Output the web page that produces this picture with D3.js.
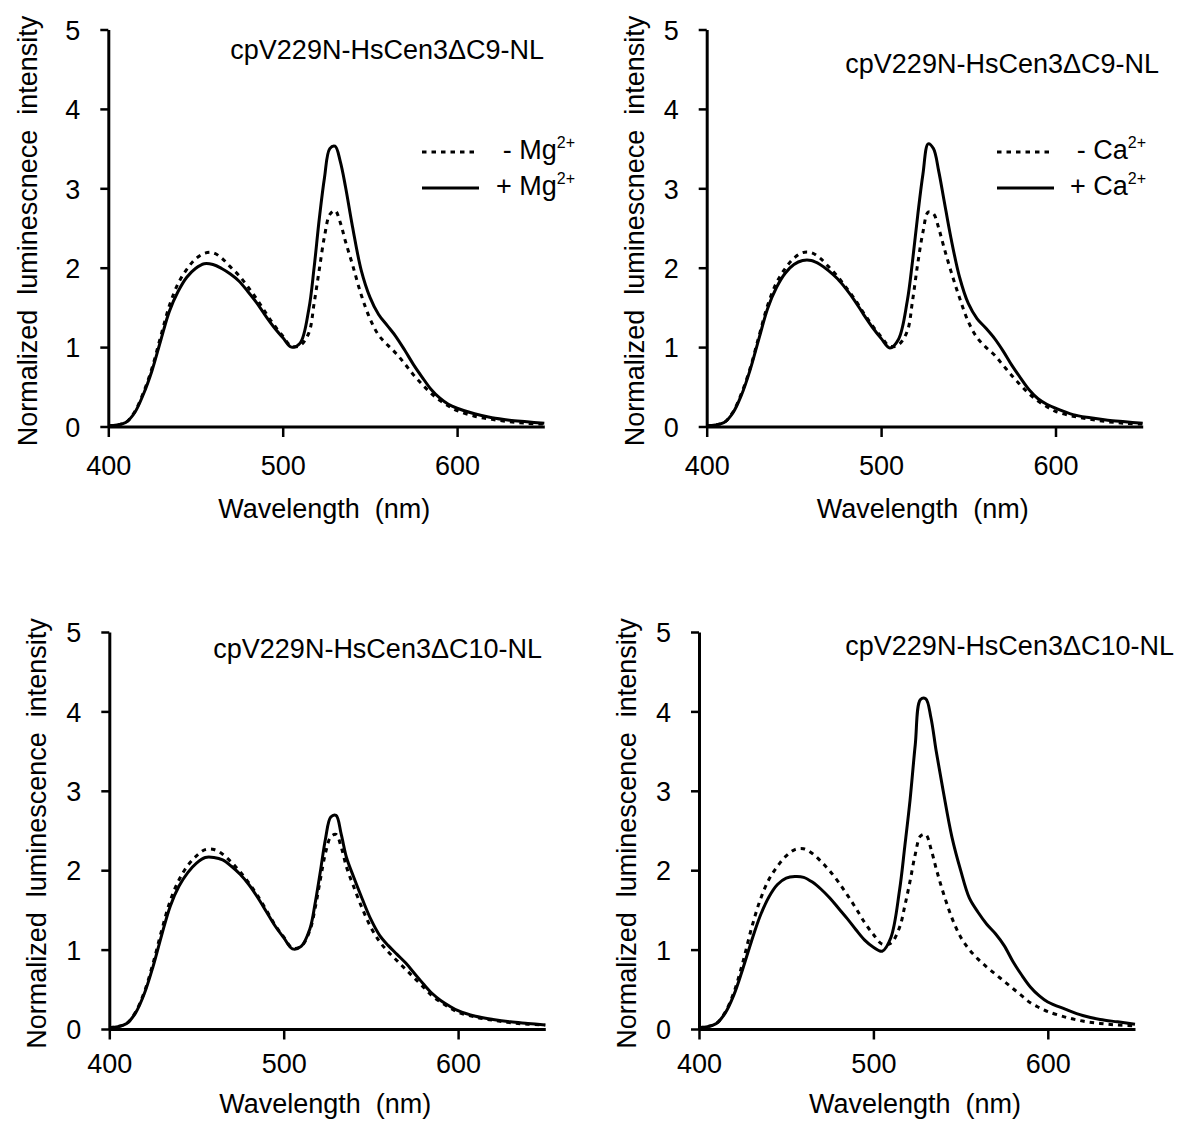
<!DOCTYPE html>
<html>
<head>
<meta charset="utf-8">
<script src="https://cdn.jsdelivr.net/npm/d3@7"></script>
<style>
  html, body { margin: 0; padding: 0; background: #fff; }
  svg text { font-family: "Liberation Sans", Arial, Helvetica, sans-serif; fill: #000; }
</style>
</head>
<body>
<svg id="chart" width="1181" height="1124"></svg>
<script>
// ---------------- DATA ----------------
const wavelengths = [400,405,410,415,420,425,430,435,440,445,450,455,460,465,470,475,480,485,490,495,500,505,510,515,518,521,524,527,530,533,536,540,545,550,555,560,565,570,575,580,585,590,595,600,610,620,630,640,650];

// Panel A: cpV229N-HsCen3dC9-NL, Mg2+
const aMinus = [0.01,0.02,0.05,0.18,0.42,0.73,1.13,1.52,1.80,1.98,2.11,2.18,2.19,2.12,2.01,1.90,1.76,1.61,1.44,1.28,1.14,1.01,1.02,
                1.18,1.55,1.98,2.40,2.67,2.72,2.57,2.33,2.04,1.66,
                1.36,1.15,1.03,0.92,0.79,0.65,0.53,0.42,0.33,0.26,0.20,0.13,0.09,0.06,0.04,0.03];
const aPlus  = [0.01,0.02,0.05,0.17,0.40,0.70,1.08,1.45,1.70,1.88,1.99,2.05,2.04,1.99,1.92,1.83,1.70,1.56,1.40,1.25,1.12,1.00,1.05,
                1.48,2.00,2.62,3.14,3.50,3.53,3.34,3.02,2.52,1.97,
                1.63,1.41,1.27,1.13,0.96,0.78,0.62,0.47,0.36,0.28,0.23,0.16,0.11,0.08,0.06,0.04];

// Panel B: cpV229N-HsCen3dC9-NL, Ca2+
const bMinus = [0.01,0.02,0.05,0.18,0.42,0.74,1.14,1.53,1.81,1.99,2.12,2.19,2.19,2.12,2.01,1.89,1.75,1.60,1.43,1.27,1.13,1.01,1.03,
                1.20,1.58,2.05,2.45,2.70,2.68,2.50,2.26,1.96,1.62,
                1.32,1.12,1.00,0.90,0.77,0.64,0.52,0.41,0.32,0.25,0.19,0.13,0.09,0.06,0.04,0.03];
const bPlus  = [0.01,0.02,0.05,0.17,0.40,0.72,1.11,1.49,1.75,1.93,2.04,2.09,2.09,2.04,1.96,1.86,1.73,1.58,1.41,1.25,1.11,0.99,1.10,
                1.58,2.08,2.66,3.18,3.56,3.50,3.22,2.86,2.38,1.88,
                1.55,1.36,1.24,1.11,0.95,0.77,0.61,0.46,0.35,0.28,0.23,0.15,0.11,0.08,0.06,0.04];

// Panel C: cpV229N-HsCen3dC10-NL, Mg2+
const cMinus = [0.02,0.03,0.07,0.21,0.46,0.82,1.24,1.62,1.88,2.06,2.18,2.26,2.26,2.20,2.10,1.98,1.84,1.68,1.50,1.31,1.16,1.02,1.04,
                1.24,1.52,1.88,2.22,2.42,2.45,2.29,2.04,1.80,1.52,
                1.28,1.10,0.97,0.86,0.75,0.64,0.53,0.42,0.34,0.27,0.21,0.15,0.11,0.08,0.06,0.05];
const cPlus  = [0.02,0.03,0.07,0.20,0.44,0.78,1.18,1.55,1.80,1.97,2.09,2.16,2.16,2.13,2.05,1.95,1.82,1.66,1.48,1.30,1.15,1.01,1.04,
                1.26,1.58,1.98,2.40,2.67,2.69,2.45,2.16,1.92,1.64,
                1.38,1.18,1.05,0.94,0.83,0.70,0.57,0.45,0.36,0.29,0.23,0.16,0.12,0.09,0.07,0.05];

// Panel D: cpV229N-HsCen3dC10-NL, Ca2+
const dMinus = [0.02,0.03,0.07,0.21,0.46,0.83,1.26,1.62,1.88,2.05,2.18,2.26,2.27,2.21,2.11,1.99,1.85,1.69,1.52,1.34,1.19,1.07,1.08,
                1.28,1.55,1.86,2.20,2.43,2.45,2.27,2.02,1.72,1.40,
                1.16,1.00,0.88,0.78,0.69,0.60,0.51,0.42,0.33,0.27,0.22,0.15,0.10,0.07,0.05,0.04];
const dPlus  = [0.02,0.03,0.07,0.20,0.43,0.75,1.10,1.42,1.66,1.82,1.90,1.92,1.91,1.85,1.76,1.65,1.52,1.39,1.25,1.12,1.03,0.98,1.15,
                1.75,2.30,2.88,3.58,4.15,4.16,3.92,3.50,3.00,2.42,
                2.00,1.65,1.47,1.32,1.20,1.05,0.85,0.68,0.53,0.42,0.34,0.25,0.17,0.12,0.09,0.06];

const panelTitles = ["cpV229N-HsCen3\u0394C9-NL", "cpV229N-HsCen3\u0394C9-NL", "cpV229N-HsCen3\u0394C10-NL", "cpV229N-HsCen3\u0394C10-NL"];
const yTitles = ["Normalized  luminescnece  intensity", "Normalized  luminescnece  intensity", "Normalized  luminescence  intensity", "Normalized  luminescence  intensity"];
const xTitle = "Wavelength  (nm)";
const legendIons = ["Mg", "Ca", null, null];
const xTicks = [400, 500, 600];
const yTicks = [0, 1, 2, 3, 4, 5];
const xDomain = [400, 650];
const yDomain = [0, 5];

const seriesByPanel = [[aMinus, aPlus], [bMinus, bPlus], [cMinus, cPlus], [dMinus, dPlus]];

// ---------------- LAYOUT ----------------
const W = 436, H = 397;
const layout = [
  { left: 108.3, top: 29.5, titleX: 544, titleY: 58.5, yTitleX: 37, xLabelDy: 48, xTitleDy: 91, legX1: 422, legX2: 479, legTextX: 575 },
  { left: 706.7, top: 29.5, titleX: 1159, titleY: 72.5, yTitleX: 644, xLabelDy: 48, xTitleDy: 91, legX1: 997, legX2: 1054, legTextX: 1146 },
  { left: 109.3, top: 632, titleX: 542, titleY: 658, yTitleX: 46, xLabelDy: 44, xTitleDy: 84, legX1: 0, legX2: 0, legTextX: 0 },
  { left: 699,   top: 632, titleX: 1174, titleY: 655, yTitleX: 636, xLabelDy: 44, xTitleDy: 84, legX1: 0, legX2: 0, legTextX: 0 }
];
const FS = 27;
const DOT = "4.5 5";

const svg = d3.select("#chart");

seriesByPanel.forEach((series, i) => {
  const L = layout[i];
  const g = svg.append("g").attr("transform", `translate(${L.left},${L.top})`);
  const x = d3.scaleLinear().domain(xDomain).range([0, W]);
  const y = d3.scaleLinear().domain(yDomain).range([H, 0]);

  // y axis
  const ya = g.append("g")
    .call(d3.axisLeft(y).tickValues(yTicks).tickFormat(d3.format("d")).tickSize(8).tickSizeOuter(0).tickPadding(20));
  ya.select(".domain").attr("stroke", "#000").attr("stroke-width", 3);
  ya.selectAll(".tick line").attr("stroke", "#000").attr("stroke-width", 2.5);
  ya.selectAll(".tick text").attr("font-size", FS).attr("font-family", null).attr("dy", "0.36em");

  // x axis
  const xa = g.append("g").attr("transform", `translate(0,${H})`)
    .call(d3.axisBottom(x).tickValues(xTicks).tickFormat(d3.format("d")).tickSize(10.5).tickSizeOuter(0).tickPadding(10));
  xa.select(".domain").attr("stroke", "#000").attr("stroke-width", 3);
  xa.selectAll(".tick line").attr("stroke", "#000").attr("stroke-width", 2.5);
  xa.selectAll(".tick text").attr("font-size", FS).attr("font-family", null)
    .attr("y", L.xLabelDy).attr("dy", 0);

  // curves
  const line = d3.line()
    .x((d, k) => x(wavelengths[k]))
    .y(d => y(d))
    .curve(d3.curveCatmullRom.alpha(0.5));
  // dotted (minus) first, solid (plus) on top
  g.append("path").datum(series[0]).attr("d", line)
    .attr("fill", "none").attr("stroke", "#000").attr("stroke-width", 3)
    .attr("stroke-dasharray", DOT);
  g.append("path").datum(series[1]).attr("d", line)
    .attr("fill", "none").attr("stroke", "#000").attr("stroke-width", 3)
    .attr("stroke-linejoin", "round");

  // panel title
  svg.append("text").attr("x", L.titleX).attr("y", L.titleY)
    .attr("text-anchor", "end").attr("font-size", FS).text(panelTitles[i]);

  // x title
  svg.append("text").attr("x", L.left + W / 2 - 2).attr("y", L.top + H + L.xTitleDy)
    .attr("text-anchor", "middle").attr("font-size", FS).style("white-space", "pre")
    .text(xTitle);

  // y title
  svg.append("text")
    .attr("transform", `translate(${L.yTitleX},${L.top + H / 2 + 3}) rotate(-90)`)
    .attr("text-anchor", "middle").attr("font-size", FS).style("white-space", "pre")
    .text(yTitles[i]);

  // legend
  if (legendIons[i]) {
    const rows = [{ sign: "- ", dash: DOT, ly: 152, ty: 159 }, { sign: "+ ", dash: null, ly: 188, ty: 195 }];
    rows.forEach(r => {
      svg.append("line").attr("x1", L.legX1).attr("x2", L.legX2).attr("y1", r.ly).attr("y2", r.ly)
        .attr("stroke", "#000").attr("stroke-width", 3)
        .attr("stroke-dasharray", r.dash);
      const t = svg.append("text").attr("x", L.legTextX).attr("y", r.ty)
        .attr("text-anchor", "end").attr("font-size", FS).style("white-space", "pre");
      t.append("tspan").text(r.sign + legendIons[i]);
      t.append("tspan").attr("font-size", 16).attr("dy", -11).text("2+");
    });
  }
});
</script>
</body>
</html>
